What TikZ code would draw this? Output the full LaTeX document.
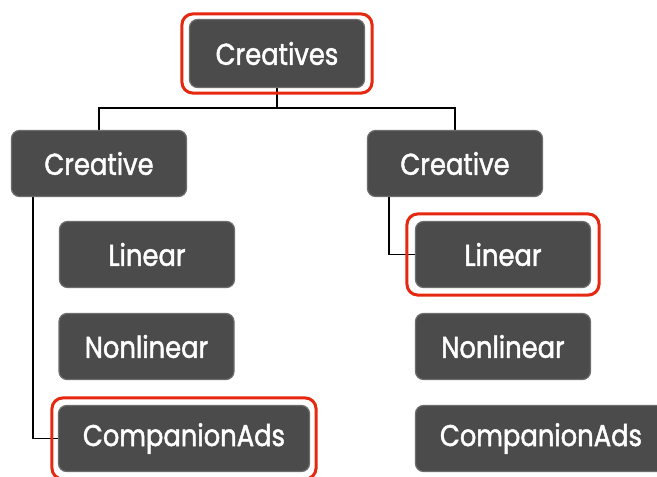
\documentclass[tikz,border=0pt]{standalone}
\usepackage{fontspec}
\newfontfamily\boxfont[FakeStretch=0.86,FakeBold=1.6]{Poppins}
\usetikzlibrary{fit,calc,backgrounds}
\definecolor{boxfill}{HTML}{4C4B4B}
\definecolor{boxedge}{HTML}{6E6D6D}
\definecolor{hired}{HTML}{E5280F}
\tikzset{
  box/.style={draw=boxedge, line width=1.2pt, fill=boxfill, rounded corners=8pt,
    text=white, font=\boxfont\fontsize{30}{30}\selectfont,
    minimum height=66pt, minimum width=175pt, inner sep=0pt, anchor=center},
  widebox/.style={box, minimum width=251pt},
  hl/.style={draw=hired, line width=3pt, rounded corners=11pt, inner sep=0pt},
  conn/.style={draw=black, line width=1.4pt},
}
\begin{document}
\begin{tikzpicture}[x=1pt,y=-1pt]
\useasboundingbox (0,0) rectangle (657,477);
\clip (0,0) rectangle (657,477);
% boxes
\node[box, minimum height=68pt] (top) at (277,53.5) {Creatives};
\node[box] (lc) at (99,163.5) {Creative};
\node[box] (ll) at (147,254.5) {Linear};
\node[box] (ln) at (146.5,346.5) {Nonlinear};
\node[widebox] (la) at (184,438.5) {CompanionAds};
\node[box] (rc) at (455,163.5) {Creative};
\node[box] (rl) at (503,254.5) {Linear};
\node[box] (rn) at (503,346.5) {Nonlinear};
\node[widebox] (ra) at (541,438.5) {CompanionAds};
% highlights
\node[hl, fit=(top), inner xsep=7pt, inner ysep=5pt] (hltop) {};
\node[hl, fit=(rl), inner xsep=8pt, inner ysep=7pt] (hlrl) {};
\node[hl, fit=(la), inner xsep=6pt, inner ysep=7pt] (hlla) {};
% connectors
\begin{scope}[on background layer]
\fill[white] (0,0) rectangle (657,477);
\coordinate (mid) at ($(top.south)+(0,20)$);
\draw[conn] (top.south) -- (mid);
\draw[conn] (lc.north) |- (mid) -| (rc.north);
\draw[conn] ($(lc.south west)+(22,0)$) |- (la.west);
\draw[conn] ($(rc.south west)+(22,0)$) |- (rl.west);
\end{scope}
\end{tikzpicture}
\end{document}
